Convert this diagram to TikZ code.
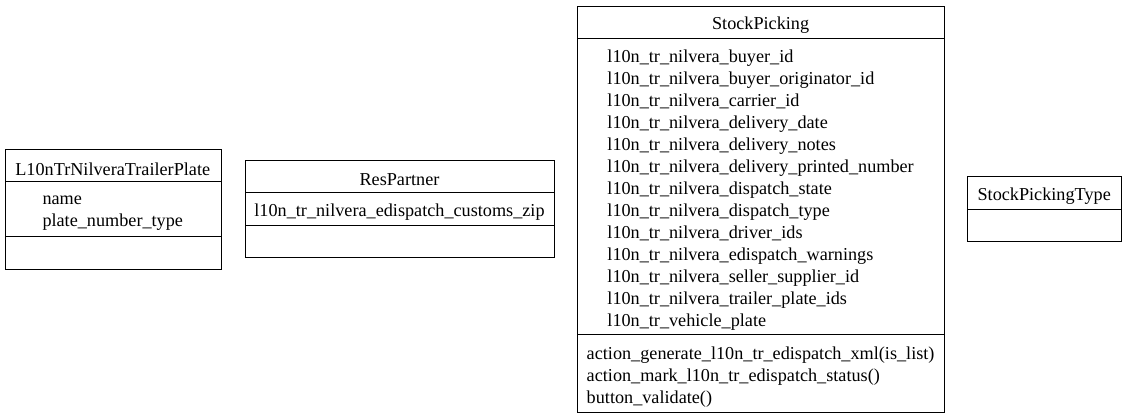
\documentclass[tikz,border=0pt]{standalone}
\usepackage{fontspec}
\setmainfont{Liberation Serif}
\begin{document}
\begin{tikzpicture}[x=1pt,y=-1pt,
  box/.style={draw=black, line width=1pt, inner sep=0pt, anchor=north west},
  lbl/.style={inner sep=0pt, font=\fontsize{18.2}{22}\selectfont, align=left, yshift=-3.5pt},
  sep/.style={draw=black, line width=1pt},
]
\useasboundingbox (0,0) rectangle (1128,418);
% L10nTrNilveraTrailerPlate
\node[box, minimum width=215.5pt, minimum height=120pt] (b1) at (5,149) {};
\draw[sep] (5,181.7) -- (220.5,181.7);
\draw[sep] (5,236.7) -- (220.5,236.7);
\node[lbl] (b1t) at (112.75,165.3) {L10nTrNilveraTrailerPlate};
\node[lbl] (b1a) at (112.75,209.2) {name\\plate\_number\_type};
% ResPartner
\node[box, minimum width=309pt, minimum height=97.3pt] (b2) at (245,160) {};
\draw[sep] (245,192.7) -- (554,192.7);
\draw[sep] (245,225) -- (554,225);
\node[lbl] (b2t) at (399.5,176.3) {ResPartner};
\node[lbl] (b2a) at (399.5,208.8) {l10n\_tr\_nilvera\_edispatch\_customs\_zip};
% StockPicking
\node[box, minimum width=366.7pt, minimum height=406.6pt] (b3) at (577.3,5.7) {};
\draw[sep] (577.3,38.5) -- (944,38.5);
\draw[sep] (577.3,334.3) -- (944,334.3);
\node[lbl] (b3t) at (760.6,22) {StockPicking};
\node[lbl] (b3a) at (760.6,186.4) {l10n\_tr\_nilvera\_buyer\_id\\
l10n\_tr\_nilvera\_buyer\_originator\_id\\
l10n\_tr\_nilvera\_carrier\_id\\
l10n\_tr\_nilvera\_delivery\_date\\
l10n\_tr\_nilvera\_delivery\_notes\\
l10n\_tr\_nilvera\_delivery\_printed\_number\\
l10n\_tr\_nilvera\_dispatch\_state\\
l10n\_tr\_nilvera\_dispatch\_type\\
l10n\_tr\_nilvera\_driver\_ids\\
l10n\_tr\_nilvera\_edispatch\_warnings\\
l10n\_tr\_nilvera\_seller\_supplier\_id\\
l10n\_tr\_nilvera\_trailer\_plate\_ids\\
l10n\_tr\_vehicle\_plate};
\node[lbl] (b3m) at (760.6,374) {action\_generate\_l10n\_tr\_edispatch\_xml(is\_list)\\
action\_mark\_l10n\_tr\_edispatch\_status()\\
button\_validate()};
% StockPickingType
\node[box, minimum width=153.7pt, minimum height=65pt] (b4) at (967.3,176) {};
\draw[sep] (967.3,209) -- (1121,209);
\node[lbl] (b4t) at (1044.2,192.5) {StockPickingType};
\end{tikzpicture}
\end{document}
